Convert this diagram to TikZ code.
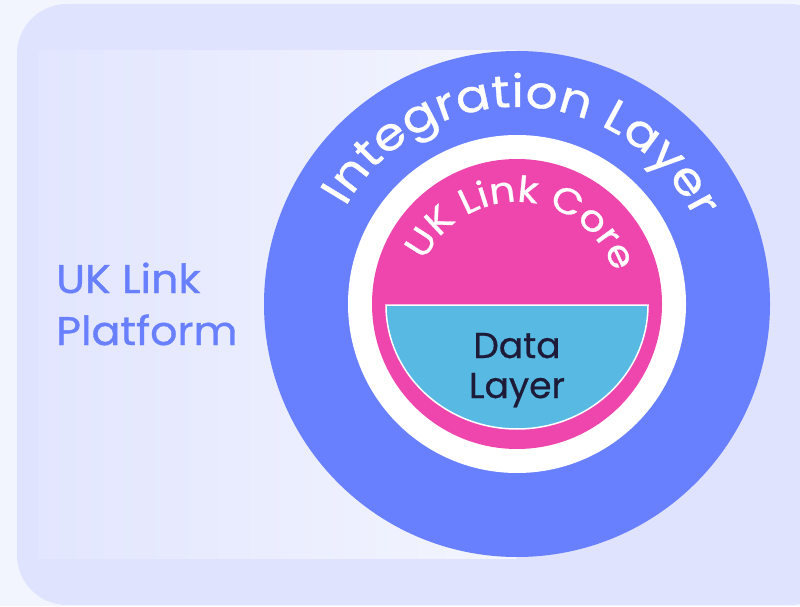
\documentclass[tikz,border=0pt]{standalone}
\usepackage{fontspec}
\setmainfont{Poppins}
\newfontfamily\popfam[FakeBold=0.6]{Poppins}
\newfontfamily\labelfam[FakeBold=0.9, FakeStretch=1.07]{Poppins}
\newfontfamily\ringfam[FakeBold=0.8, FakeStretch=1.12]{Poppins}
\usetikzlibrary{decorations.text}
\definecolor{canvasbg}{HTML}{F3F5FE}
\definecolor{panelbg}{HTML}{DFE3FE}
\definecolor{panelhi}{HTML}{F3F5FE}
\definecolor{ringblue}{HTML}{6980FE}
\definecolor{corepink}{HTML}{EE46AD}
\definecolor{datablue}{HTML}{58B9E3}
\definecolor{darktext}{HTML}{1D1B38}
\newcommand\ringfont{\ringfam\fontsize{45}{54}\selectfont}
\newcommand\corefont{\ringfam\fontsize{36}{43}\selectfont}
\tikzset{
  labeltext/.style={font=\labelfam\fontsize{40}{48}\selectfont, text=ringblue, inner sep=0pt},
  datatext/.style={font=\popfam\fontsize{36}{43}\selectfont, text=darktext, inner sep=0pt},
}
\begin{document}
\begin{tikzpicture}[x=1pt,y=1pt]
\useasboundingbox (0,0) rectangle (800,606);
\clip (0,0) rectangle (800,606);
\fill[canvasbg] (0,0) rectangle (800,606);
% outer panel
\fill[panelbg, rounded corners=50pt] (17,1) rectangle (840,602);
% inner gradient panel
\shade[left color=panelbg!90!white, right color=panelhi] (38,48) rectangle (517,555);
% label
\node[labeltext, anchor=base west] (lbl1) at (56,313) {UK Link};
\node[labeltext, anchor=base west] (lbl2) at (56,261) {Platform};
% rings
\coordinate (C) at (517,302);
\fill[ringblue] (C) circle[radius=253];
\fill[white] (C) circle[radius=169];
\fill[corepink] (C) circle[radius=145];
% data layer
\filldraw[fill=datablue, draw=white, line width=1.5pt] (386,301) arc[start angle=180, end angle=360, x radius=131, y radius=124] -- cycle;
\node[datatext, anchor=base] (data1) at (517,248) {Data};
\node[datatext, anchor=base] (data2) at (517,208) {Layer};
% curved texts
\path[decorate, decoration={text along path, text color=white, text align=fit to path,
  text={|\ringfont|Integration Layer}}]
  (C) ++(150.5:197) arc[start angle=150.5, end angle=25.5, radius=197];
\path[decorate, decoration={text along path, text color=white, text align=fit to path,
  text={|\corefont|UK Link Core}}]
  (C) ++(155:102) arc[start angle=155, end angle=19, radius=102];
\end{tikzpicture}
\end{document}
